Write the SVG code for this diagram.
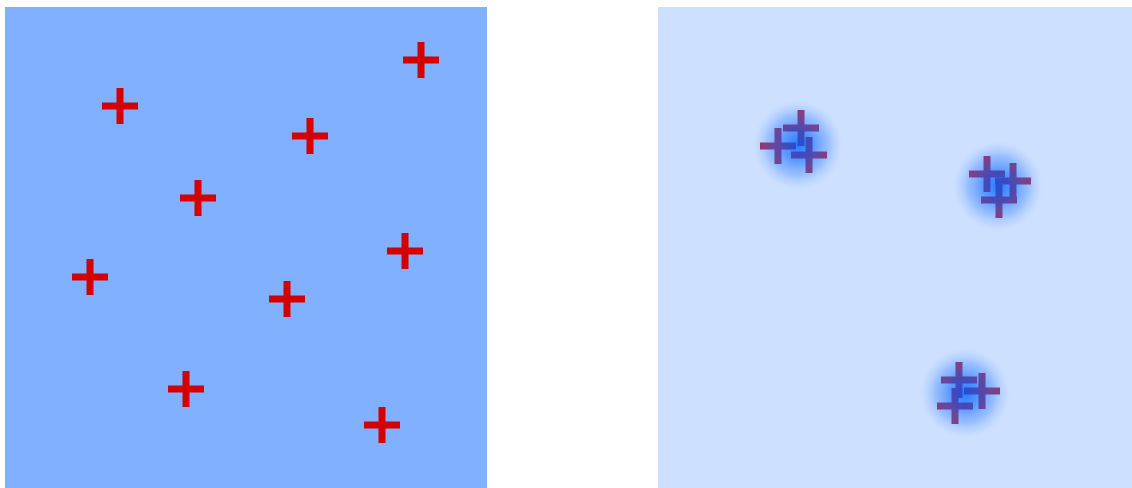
<svg xmlns="http://www.w3.org/2000/svg" width="1132" height="488" viewBox="0 0 1132 488">
  <defs>
    <style>
      .cl { fill: #d40000; }
      .cr { fill: #a00830; }
      .glow { fill: url(#glow); }
    </style>
    <path id="cross" d="M-3.5,-18 H3.5 V-3.5 H18 V3.5 H3.5 V18 H-3.5 V3.5 H-18 V-3.5 H-3.5 Z"/>
    <radialGradient id="glow">
      <stop offset="0" stop-color="#0060ff" stop-opacity="0.8"/>
      <stop offset="0.35" stop-color="#1a70ff" stop-opacity="0.62"/>
      <stop offset="0.65" stop-color="#4d8fff" stop-opacity="0.42"/>
      <stop offset="0.88" stop-color="#99c0ff" stop-opacity="0.2"/>
      <stop offset="1" stop-color="#cde0ff" stop-opacity="0"/>
    </radialGradient>
  </defs>
  <rect width="1132" height="488" fill="#ffffff"/>
  <g id="panel-left">
    <rect x="5" y="7" width="482" height="481" fill="#80b0ff"/>
    <g id="crosses-left" class="cl">
      <use href="#cross" x="120" y="106"/>
      <use href="#cross" x="421" y="60"/>
      <use href="#cross" x="310" y="136"/>
      <use href="#cross" x="198" y="198"/>
      <use href="#cross" x="405" y="251"/>
      <use href="#cross" x="90" y="277"/>
      <use href="#cross" x="287" y="299"/>
      <use href="#cross" x="186" y="389"/>
      <use href="#cross" x="382" y="425"/>
    </g>
  </g>
  <g id="panel-right">
    <rect x="658" y="7" width="474" height="481" fill="#cde0ff"/>
    <g id="cluster-1">
      <g class="cr">
        <use href="#cross" x="801" y="128"/>
        <use href="#cross" x="778" y="146"/>
        <use href="#cross" x="809" y="155"/>
      </g>
      <circle class="glow" cx="798" cy="145" r="46"/>
    </g>
    <g id="cluster-2">
      <g class="cr">
        <use href="#cross" x="987" y="174"/>
        <use href="#cross" x="1013" y="181"/>
        <use href="#cross" x="999" y="200"/>
      </g>
      <circle class="glow" cx="998" cy="186" r="46"/>
    </g>
    <g id="cluster-3">
      <g class="cr">
        <use href="#cross" x="959" y="380"/>
        <use href="#cross" x="982" y="391"/>
        <use href="#cross" x="955" y="406"/>
      </g>
      <circle class="glow" cx="965" cy="393" r="46"/>
    </g>
  </g>
</svg>
